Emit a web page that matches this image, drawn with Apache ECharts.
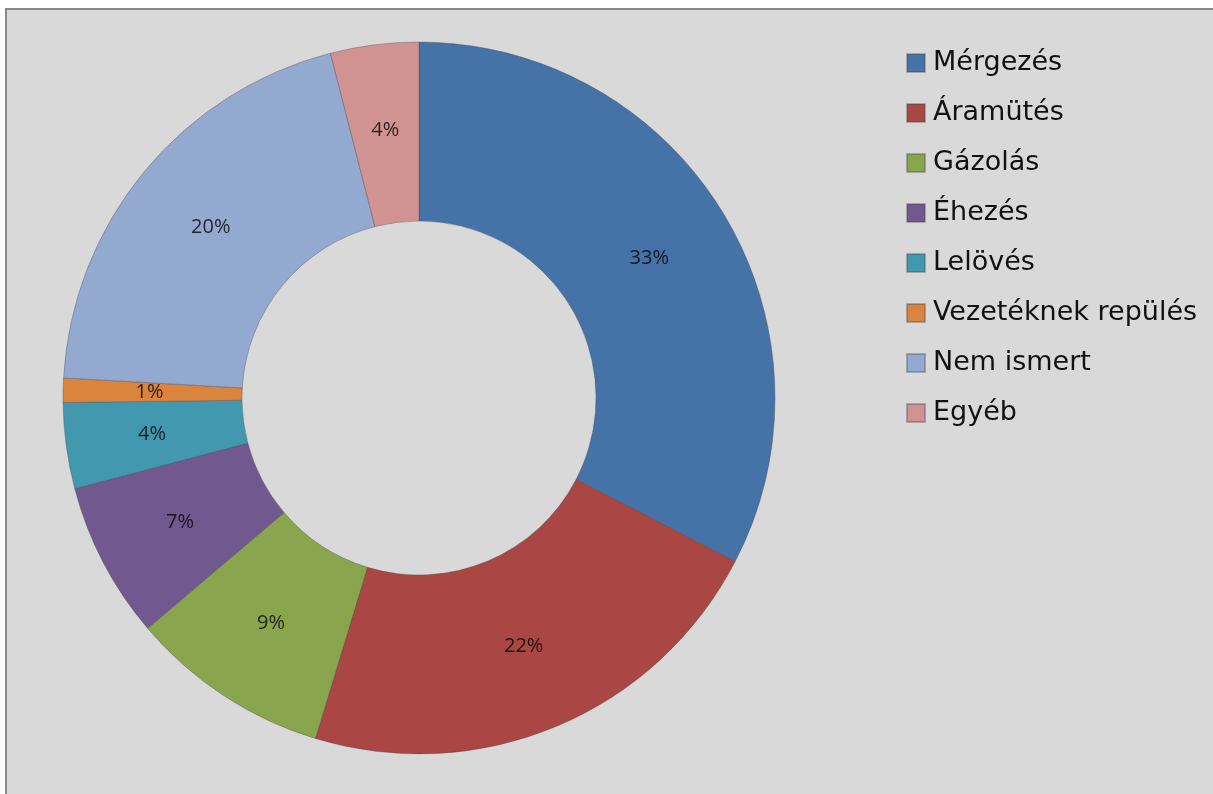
<!DOCTYPE html>
<html>
<head>
<meta charset="utf-8">
<script src="https://cdn.jsdelivr.net/npm/echarts@6/dist/echarts.min.js"></script>
<style>
  html, body { margin: 0; padding: 0; background: #fff; }
  #chart { width: 1213px; height: 794px; }
</style>
</head>
<body>
<div id="chart"></div>
<script>
  var categories = ['Mérgezés', 'Áramütés', 'Gázolás', 'Éhezés', 'Lelövés', 'Vezetéknek repülés', 'Nem ismert', 'Egyéb'];
  var values = [32.6, 22.1, 9.1, 7.1, 3.9, 1.1, 20.1, 4.0];
  var colors = ['#4572a7', '#aa4643', '#89a54e', '#71588f', '#4198af', '#db843d', '#93a9cf', '#d19392'];

  var chart = echarts.init(document.getElementById('chart'), null, { renderer: 'canvas' });
  chart.setOption({
    animation: false,
    backgroundColor: '#ffffff',
    color: colors,
    graphic: [{
      type: 'rect',
      z: -10,
      shape: { x: 6, y: 9, width: 1400, height: 1000 },
      style: { fill: '#d9d9d9', stroke: '#8a8a8a', lineWidth: 2 }
    }],
    legend: {
      orient: 'vertical',
      left: 901,
      top: 43,
      icon: 'rect',
      itemWidth: 18,
      itemHeight: 18,
      itemGap: 20,
      textStyle: { fontFamily: 'DejaVu Sans', fontSize: 27, color: '#111', lineHeight: 30, padding: [0, 0, 0, 3] },
      data: categories
    },
    series: [{
      type: 'pie',
      center: [419, 398],
      radius: [177, 356],
      startAngle: 90,
      clockwise: true,
      itemStyle: { borderColor: 'rgba(70,70,70,0.35)', borderWidth: 1 },
      label: {
        show: true,
        position: 'inside',
        fontFamily: 'Open Sans',
        fontSize: 20,
        color: 'rgba(0,0,0,0.78)',
        formatter: function(p) { return Math.round(p.percent) + '%'; }
      },
      labelLine: { show: false },
      emphasis: { disabled: true },
      data: categories.map(function(c, i) { return { name: c, value: values[i] }; })
    }]
  });
</script>
</body>
</html>
